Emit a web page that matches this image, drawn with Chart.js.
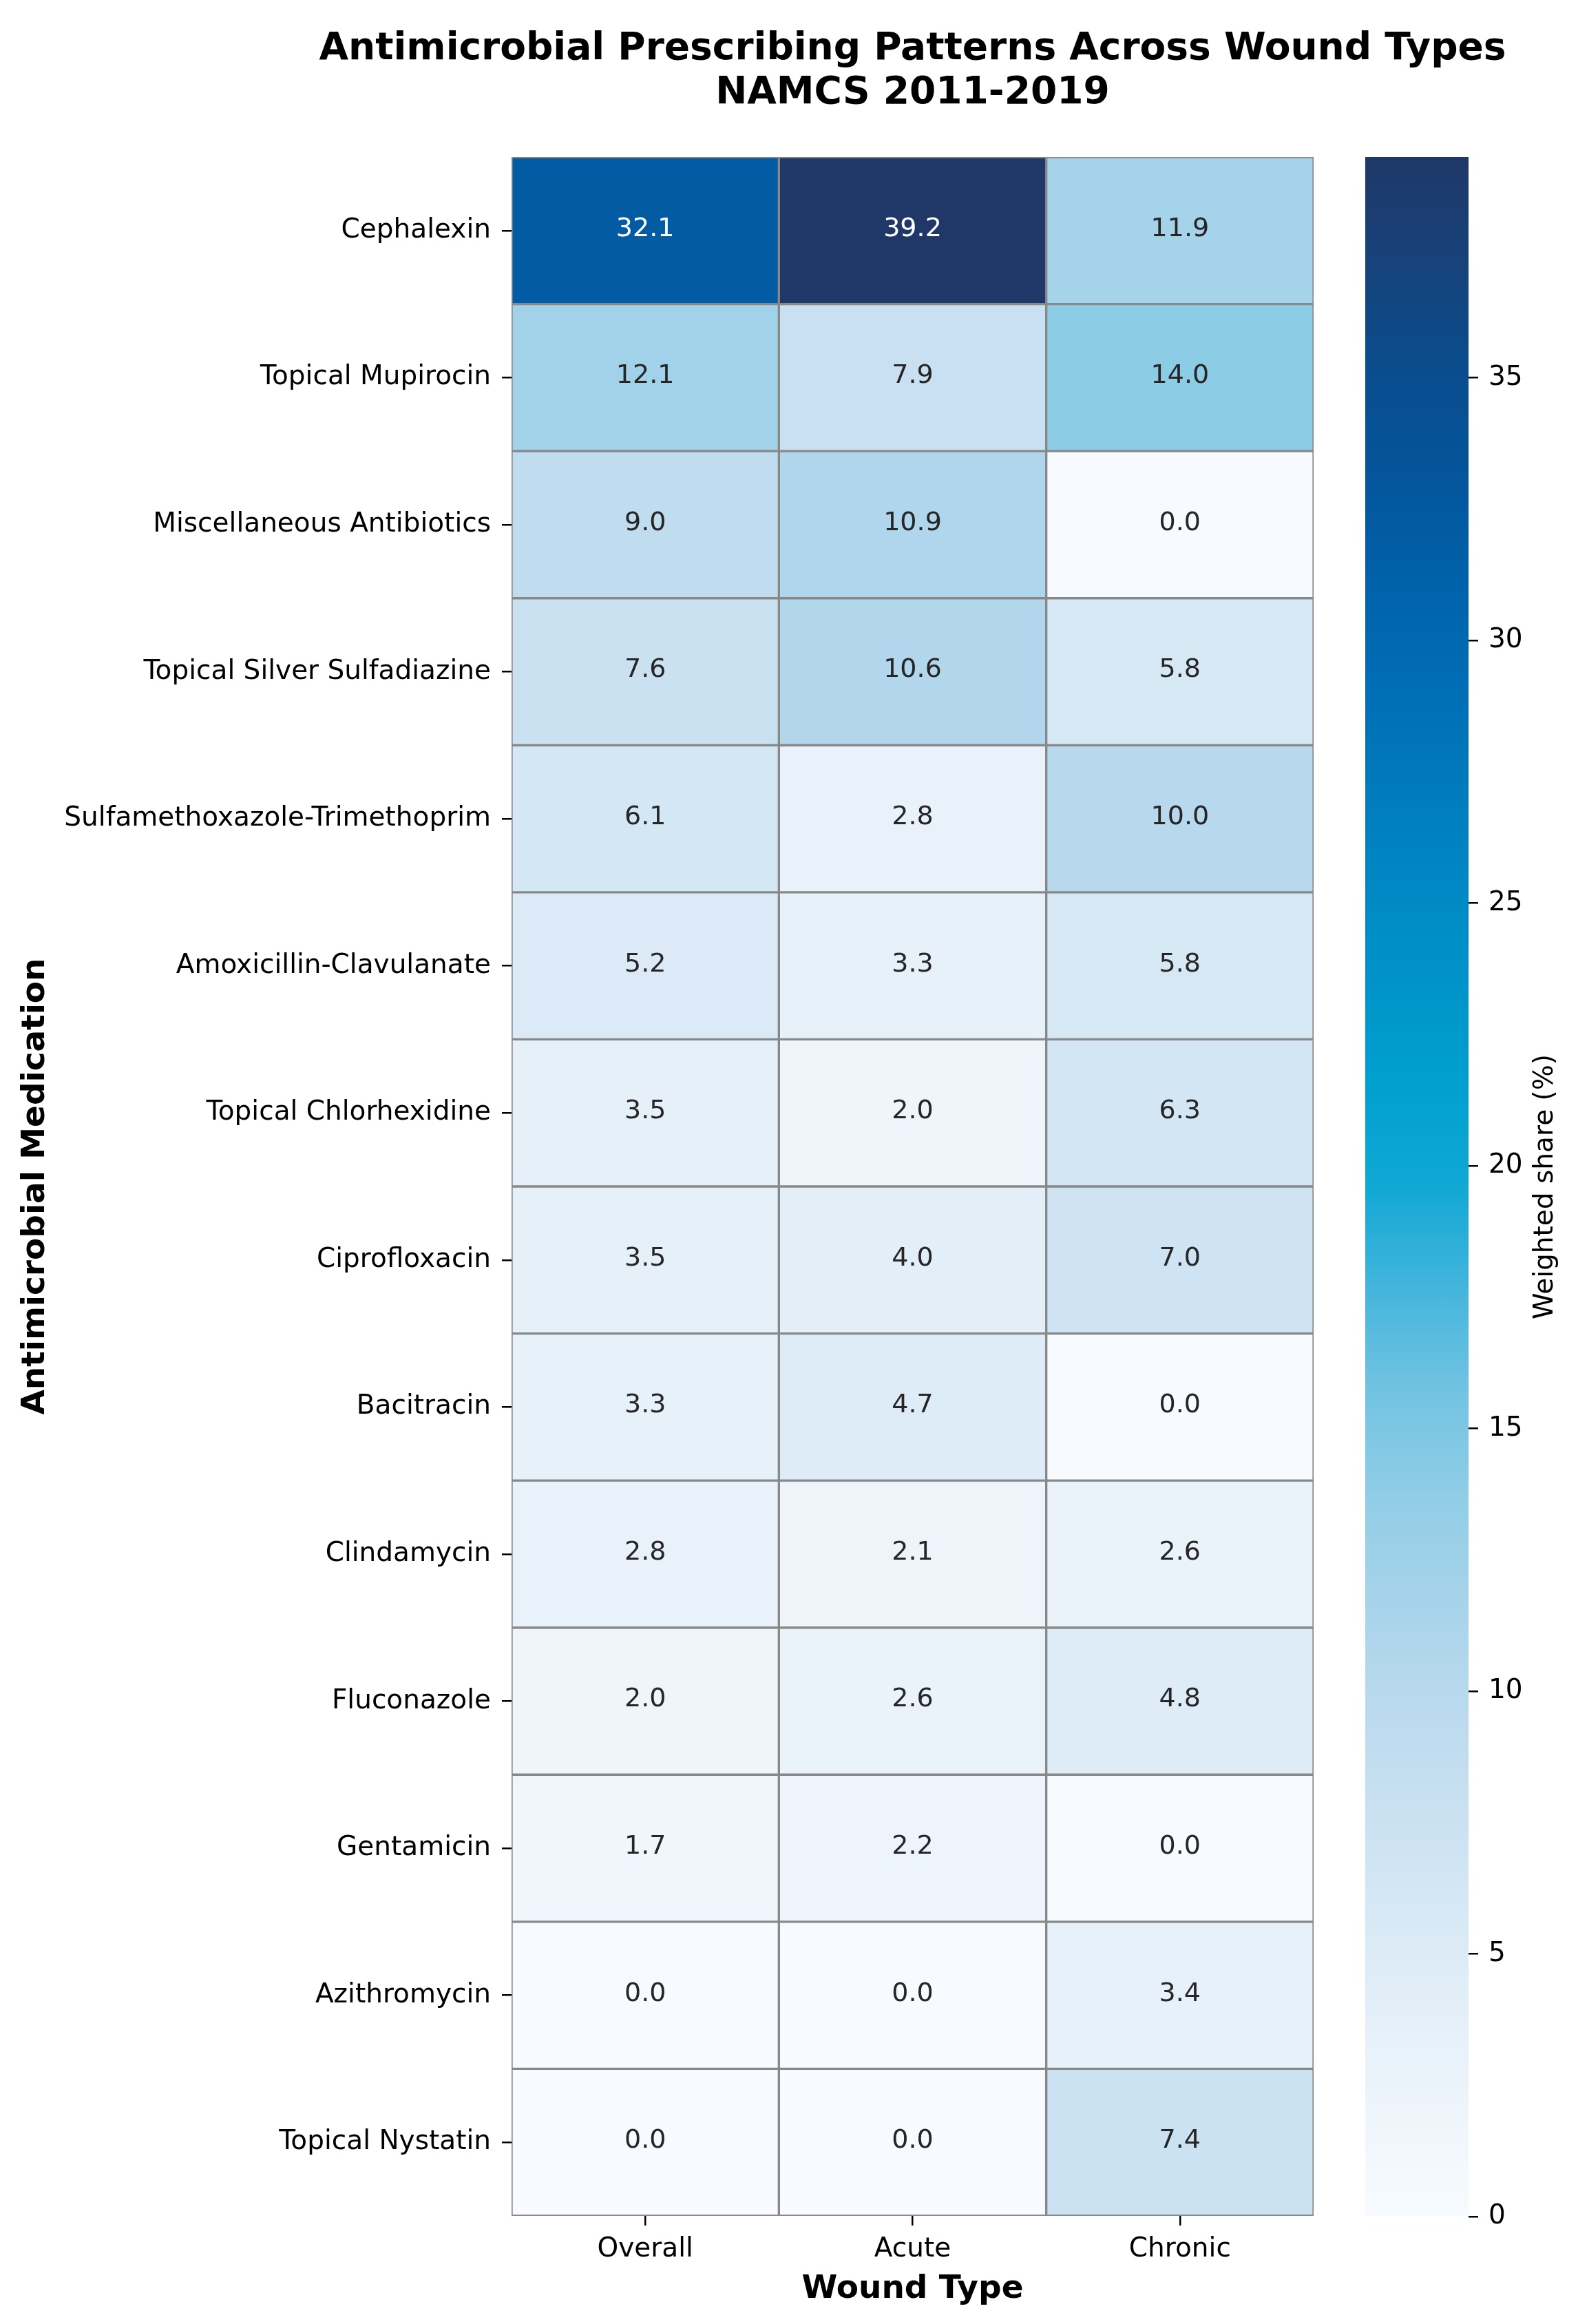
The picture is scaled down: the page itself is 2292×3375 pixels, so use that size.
<!DOCTYPE html>
<html>
<head>
<meta charset="utf-8">
<title>Antimicrobial Prescribing Patterns Across Wound Types</title>
<script src="https://cdn.jsdelivr.net/npm/chart.js@4.4.1/dist/chart.umd.min.js"></script>
<style>
  html, body { margin: 0; padding: 0; background: #fff; }
  #wrap { position: relative; width: 2292px; height: 3375px; overflow: hidden; }
  #heatmap { position: absolute; left: 0; top: 0; }
  #colorbar { position: absolute; left: 1983px; top: 0; }
</style>
</head>
<body>
<div id="wrap">
  <canvas id="heatmap" width="2292" height="3375"></canvas>
  <canvas id="colorbar" width="309" height="3375"></canvas>
</div>
<script>
const medications = [
    "Cephalexin",
    "Topical Mupirocin",
    "Miscellaneous Antibiotics",
    "Topical Silver Sulfadiazine",
    "Sulfamethoxazole-Trimethoprim",
    "Amoxicillin-Clavulanate",
    "Topical Chlorhexidine",
    "Ciprofloxacin",
    "Bacitracin",
    "Clindamycin",
    "Fluconazole",
    "Gentamicin",
    "Azithromycin",
    "Topical Nystatin",
];
const woundTypes = ["Overall", "Acute", "Chronic"];
const overall = [32.1, 12.1, 9.0, 7.6, 6.1, 5.2, 3.5, 3.5, 3.3, 2.8, 2.0, 1.7, 0.0, 0.0];
const acute = [39.2, 7.9, 10.9, 10.6, 2.8, 3.3, 2.0, 4.0, 4.7, 2.1, 2.6, 2.2, 0.0, 0.0];
const chronic = [11.9, 14.0, 0.0, 5.8, 10.0, 5.8, 6.3, 7.0, 0.0, 2.6, 4.8, 0.0, 3.4, 7.4];
const colorbarTicks = [0, 5, 10, 15, 20, 25, 30, 35];

const titleLines = ["Antimicrobial Prescribing Patterns Across Wound Types", "NAMCS 2011-2019"];

// colour ramp sampled off the reference colorbar (a punchy "Blues")
const blues = [
    [0.00, "#f7fbff"], [0.05, "#eef5fb"], [0.10, "#e3eff8"], [0.15, "#d6e8f5"],
    [0.20, "#c8e0f1"], [0.25, "#bad9ee"], [0.30, "#a6d3ea"], [0.35, "#90cde6"],
    [0.40, "#72c3e2"], [0.45, "#45b5dc"], [0.50, "#10a8d4"], [0.55, "#00a0cf"],
    [0.60, "#0093c9"], [0.65, "#0087c3"], [0.70, "#0079bb"], [0.75, "#006cb3"],
    [0.80, "#0060a8"], [0.85, "#05549a"], [0.90, "#0a4c8c"], [0.95, "#17427a"],
    [1.00, "#1f3868"],
];

const series = [overall, acute, chronic];
const vmax = Math.max(...overall, ...acute, ...chronic);

Chart.defaults.font.family = "'DejaVu Sans', sans-serif";

function hexToRgb(h) {
    return [1, 3, 5].map((i) => parseInt(h.substr(i, 2), 16));
}

function rampRgb(v) {
    const f = Math.min(1, Math.max(0, v / vmax));
    for (let i = 1; i < blues.length; i++) {
        if (f <= blues[i][0]) {
            const [f0, c0] = blues[i - 1];
            const [f1, c1] = blues[i];
            const t = (f - f0) / (f1 - f0);
            const a = hexToRgb(c0), b = hexToRgb(c1);
            return a.map((x, k) => Math.round(x + (b[k] - x) * t));
        }
    }
    return hexToRgb(blues[blues.length - 1][1]);
}

function cellColor(v) {
    const [r, g, b] = rampRgb(v);
    return `rgb(${r}, ${g}, ${b})`;
}

// same rule seaborn uses to pick annotation colour
function textColor(v) {
    const lin = rampRgb(v).map((c) => {
        c = c / 255;
        return c <= 0.03928 ? c / 12.92 : Math.pow((c + 0.055) / 1.055, 2.4);
    });
    const lum = 0.2126 * lin[0] + 0.7152 * lin[1] + 0.0722 * lin[2];
    return lum > 0.408 ? "#262626" : "#ffffff";
}

const heatTitle = {
    id: "heatTitle",
    afterDraw(chart) {
        const { ctx, chartArea } = chart;
        const cx = (chartArea.left + chartArea.right) / 2;
        ctx.save();
        ctx.fillStyle = "#000";
        ctx.font = "bold 55px 'DejaVu Sans'";
        ctx.textAlign = "center";
        ctx.textBaseline = "alphabetic";
        ctx.fillText(titleLines[0], cx, chartArea.top - 142);
        ctx.fillText(titleLines[1], cx, chartArea.top - 78);
        ctx.restore();
    },
};

const cellLabels = {
    id: "cellLabels",
    afterDatasetsDraw(chart) {
        const ctx = chart.ctx;
        ctx.save();
        ctx.font = "38px 'DejaVu Sans'";
        ctx.textAlign = "center";
        ctx.textBaseline = "middle";
        series.forEach((vals, k) => {
            chart.getDatasetMeta(k).data.forEach((bar, i) => {
                const p = bar.getCenterPoint();
                ctx.fillStyle = textColor(vals[i]);
                ctx.fillText(vals[i].toFixed(1), p.x, p.y - 2);
            });
        });
        ctx.restore();
    },
};

new Chart(document.getElementById("heatmap"), {
    type: "bar",
    data: {
        labels: medications,
        datasets: series.map((vals, k) => ({
            label: woundTypes[k],
            data: vals.map(() => [k, k + 1]),
            backgroundColor: vals.map(cellColor),
            borderColor: "#888888",
            borderWidth: 2,
            borderSkipped: false,
            grouped: false,
            barPercentage: 1,
            categoryPercentage: 1,
        })),
    },
    options: {
        indexAxis: "y",
        responsive: false,
        animation: false,
        devicePixelRatio: 1,
        layout: { padding: { top: 228, right: 384, bottom: 0, left: 0 } },
        plugins: {
            legend: { display: false },
            tooltip: { enabled: false },
        },
        scales: {
            x: {
                type: "linear",
                min: 0,
                max: 3,
                afterBuildTicks: (scale) => {
                    scale.ticks = woundTypes.map((w, i) => ({ value: i + 0.5 }));
                },
                afterFit: (scale) => {
                    scale.height = 157;
                },
                ticks: {
                    callback: (value, index) => woundTypes[index],
                    font: { size: 39 },
                    color: "#000",
                    padding: 11,
                    maxRotation: 0,
                },
                grid: { drawOnChartArea: false, tickLength: 14, color: "#000", lineWidth: 2.5 },
                border: { display: false },
                title: {
                    display: true,
                    text: "Wound Type",
                    font: { size: 47, weight: "bold" },
                    color: "#000",
                    padding: { top: 0, bottom: 22 },
                },
            },
            y: {
                afterFit: (scale) => {
                    scale.width = 743;
                },
                ticks: { font: { size: 39 }, color: "#000", padding: 16 },
                grid: { offset: false, drawOnChartArea: false, tickLength: 14, color: "#000", lineWidth: 2.5 },
                border: { display: false },
                title: {
                    display: true,
                    text: "Antimicrobial Medication",
                    font: { size: 47, weight: "bold" },
                    color: "#000",
                    padding: { top: 24, bottom: 0 },
                },
            },
        },
    },
    plugins: [heatTitle, cellLabels],
});

const colorbarLabel = {
    id: "colorbarLabel",
    afterDraw(chart) {
        const { ctx, chartArea } = chart;
        ctx.save();
        ctx.translate(chartArea.right + 112, (chartArea.top + chartArea.bottom) / 2);
        ctx.rotate(-Math.PI / 2);
        ctx.fillStyle = "#000";
        ctx.font = "39px 'DejaVu Sans'";
        ctx.textAlign = "center";
        ctx.textBaseline = "middle";
        ctx.fillText("Weighted share (%)", 0, 0);
        ctx.restore();
    },
};

new Chart(document.getElementById("colorbar"), {
    type: "bar",
    data: {
        labels: [""],
        datasets: [
            {
                data: [[0, vmax]],
                backgroundColor: (context) => {
                    const chart = context.chart;
                    if (!chart.chartArea) return null;
                    const y = chart.scales.y;
                    const g = chart.ctx.createLinearGradient(0, y.getPixelForValue(0), 0, y.getPixelForValue(vmax));
                    blues.forEach(([f, c]) => g.addColorStop(f, c));
                    return g;
                },
                borderWidth: 0,
                barPercentage: 1,
                categoryPercentage: 1,
            },
        ],
    },
    options: {
        responsive: false,
        animation: false,
        devicePixelRatio: 1,
        layout: { padding: { top: 228, right: 0, bottom: 156, left: 0 } },
        plugins: {
            legend: { display: false },
            tooltip: { enabled: false },
        },
        scales: {
            x: { display: false },
            y: {
                position: "right",
                min: 0,
                max: vmax,
                afterBuildTicks: (scale) => {
                    scale.ticks = colorbarTicks.map((v) => ({ value: v }));
                },
                afterFit: (scale) => {
                    scale.width = 159;
                },
                ticks: { font: { size: 39 }, color: "#000", padding: 15 },
                grid: { drawOnChartArea: false, tickLength: 14, color: "#000", lineWidth: 2.5 },
                border: { display: false },
            },
        },
    },
    plugins: [colorbarLabel],
});
</script>
</body>
</html>
